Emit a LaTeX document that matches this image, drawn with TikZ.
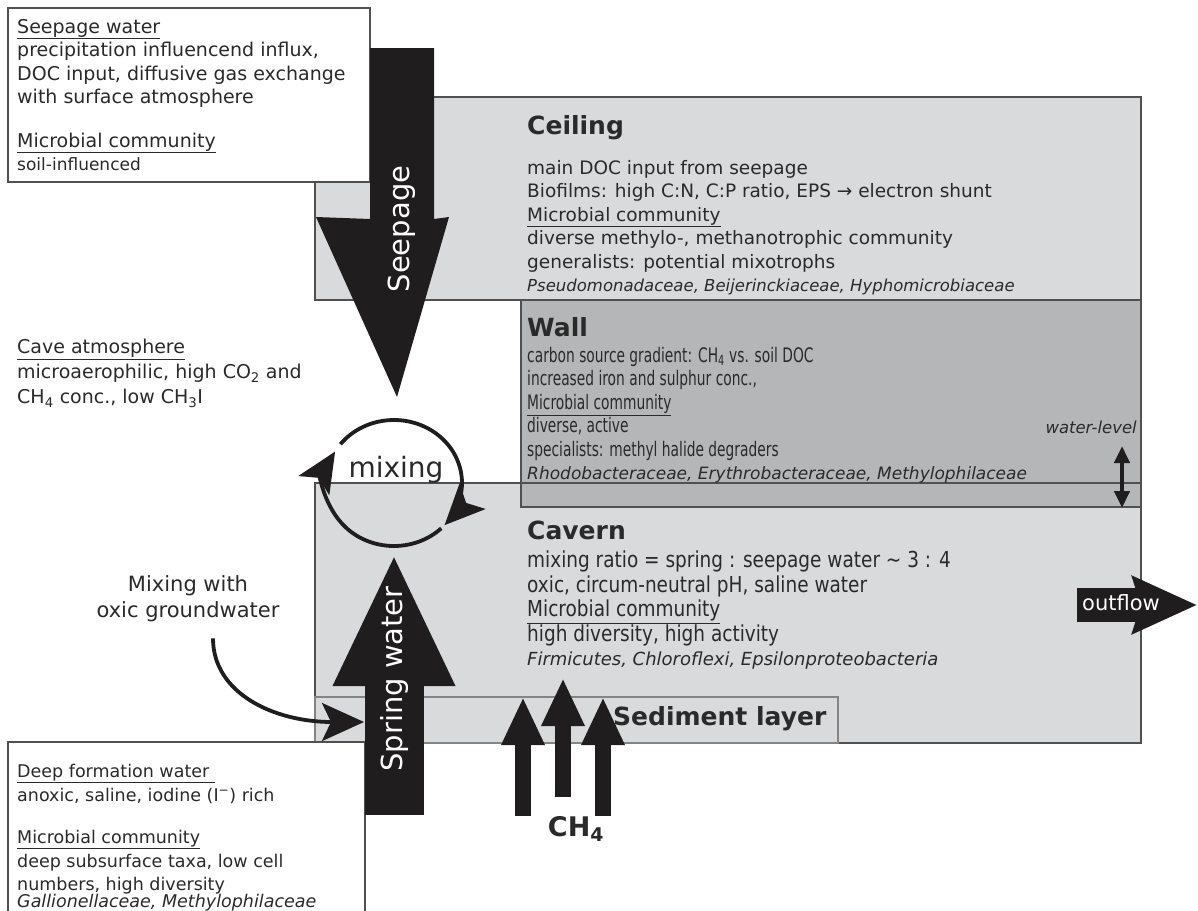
\documentclass[tikz,border=0pt]{standalone}
\usepackage{fontspec}
\setmainfont{DejaVu Sans}
\newfontfamily\wallfont{DejaVu Sans}[FakeStretch=0.69]
\newfontfamily\cavfont{DejaVu Sans}[FakeStretch=0.84]
\usetikzlibrary{positioning}
\usetikzlibrary{arrows.meta}

\definecolor{inkgray}{HTML}{2A2A2A}
\definecolor{edgegray}{HTML}{505050}
\definecolor{roomgray}{HTML}{D9DADC}
\definecolor{wallgray}{HTML}{B5B6B8}
\definecolor{flowblack}{HTML}{1F1D1E}

\newcommand{\infosize}{\fontsize{19}{23.5}\selectfont}
\newcommand{\zonesize}{\fontsize{18.5}{23.5}\selectfont}
\newcommand{\wallsize}{\fontsize{20}{23.5}\selectfont}
\newcommand{\cavsize}{\fontsize{22}{24.5}\selectfont}
\newcommand{\deepsize}{\fontsize{17.5}{23.5}\selectfont}
\newcommand{\titlesize}{\fontsize{25}{30}\selectfont}
\newcommand{\flowsize}{\fontsize{29}{34}\selectfont}

\begin{document}
\begin{tikzpicture}[x=1pt, y=-1pt,
    zonebox/.style={draw=edgegray, line width=1.3pt, fill=roomgray},
    wallbox/.style={zonebox, fill=wallgray},
    infobox/.style={draw=edgegray, line width=1.3pt, fill=white},
    textblock/.style={inner sep=0pt, anchor=north west, align=left, text=inkgray},
    zonetitle/.style={inner sep=0pt, anchor=west, text=inkgray, font=\titlesize\bfseries},
    flowlabel/.style={inner sep=0pt, text=white, font=\flowsize},
    bigflow/.style={draw=flowblack, line cap=butt},
    mixline/.style={draw=flowblack, line width=3.8pt},
  ]
  \useasboundingbox (0,0) rectangle (1198,910);
  \clip (0,0) rectangle (1198,910);

  % Zones
  \fill[roomgray] (315,483) rectangle (1141,743);
  \draw[zonebox] (315,97) rectangle (1141,300);
  \draw[wallbox] (521,300) rectangle (1141,507);
  \draw[draw=edgegray, line width=1.3pt] (315,483) rectangle (1141,743);
  \draw[zonebox, draw=edgegray!70] (315,697) rectangle (838,743);

  \draw[infobox] (8,8) rectangle (370,182);
  \draw[infobox] (8,742) rectangle (365,930);

  % Seepage and spring water
  \coordinate (seeptop) at (402,48);
  \coordinate (seeptip) at (397,397);
  \coordinate (springfoot) at (394,815);
  \coordinate (springtip) at (394,553);
  \fill[flowblack] (370,48) -- (434,48) -- (434,219) -- (449,217) -- (seeptip)
    -- (316,217) -- (370,219) -- cycle;
  \draw[bigflow, line width=59pt, -{Triangle[length=133pt,width=112pt]}] (springfoot) -- (springtip);
  \node[flowlabel, rotate=90] (seeplabel) at (402,229) {Seepage};
  \node[flowlabel, rotate=90] (springlabel) at (394,679) {Spring water};

  % Mixing loop
  \coordinate (mixc) at (394,483);
  \draw[mixline, -{Stealth[length=40pt,width=36pt,inset=9pt]}] (mixc) ++(46:68 and 63)
    arc[start angle=46, end angle=210, x radius=68, y radius=63];
  \draw[mixline, -{Stealth[length=40pt,width=36pt,inset=9pt]}] (mixc) ++(218:68 and 63)
    arc[start angle=218, end angle=402, x radius=68, y radius=63];
  \node[inner sep=0pt, text=inkgray, font=\fontsize{28}{32}\selectfont] (mixlabel) at (396,470) {mixing};

  % Groundwater inflow
  \node[textblock, anchor=center, align=center, font=\fontsize{21}{26}\selectfont] (oxicnote) at (188,599)
    {Mixing with\\oxic groundwater};
  \coordinate (springin) at (364,722);
  \draw[mixline, -{Stealth[length=42pt,width=38pt,inset=9pt]}] ([xshift=25pt, yshift=-16pt]oxicnote.south)
    .. controls +(0,55) and +(-90,0) .. (springin);

  % Outflow
  \coordinate (outbase) at (1077,605);
  \coordinate (outtip) at (1197,605);
  \draw[bigflow, line width=34pt, -{Stealth[length=64pt,width=56pt,inset=8pt]}] (outbase) -- (outtip);
  \node[flowlabel, font=\fontsize{21}{24}\selectfont] (outlabel) at (1121,603) {outflow};

  % Water level
  \coordinate (wltop) at (1122,446);
  \coordinate (wlbot) at (1122,508);
  \draw[draw=flowblack, line width=4.5pt, {Triangle[length=17pt,width=15pt]}-{Triangle[length=17pt,width=15pt]}] (wltop) -- (wlbot);
  \node[inner sep=0pt, anchor=east, text=inkgray, font=\fontsize{16.5}{20}\selectfont\itshape] (wllabel) at (1137,427) {water-level};

  % Methane
  \foreach \x/\tip/\foot [count=\i] in {523/697/816, 563/678/797, 603/697/816} {
    \coordinate (gasfoot\i) at (\x,\foot);
    \coordinate (gastip\i) at (\x,\tip);
    \draw[bigflow, line width=16pt, -{Triangle[length=48pt,width=40pt]}] (gasfoot\i) -- (gastip\i);
  }
  \node[inner sep=0pt, text=inkgray, font=\fontsize{27}{30}\selectfont\bfseries] (gaslabel) at (576,829) {CH\textsubscript{4}};

  % Zone texts
  \node[zonetitle] (ceiltitle) at (527,128) {Ceiling};
  \node[textblock, font=\zonesize] (ceilinfo) at (527,160) {main DOC input from seepage\\
    Biofilms: high C:N, C:P ratio, EPS → electron shunt\\
    \underline{Microbial community}\\
    diverse methylo-, methanotrophic community\\
    generalists: potential mixotrophs\\
    {\itshape\fontsize{16.5}{23}\selectfont Pseudomonadaceae, Beijerinckiaceae, Hyphomicrobiaceae}};

  \node[zonetitle] (walltitle) at (527,327) {Wall};
  \node[textblock, font=\wallfont\wallsize] (wallinfo) at (527,347) {carbon source gradient: CH\textsubscript{4} vs. soil DOC\\
    increased iron and sulphur conc.,\\
    \underline{Microbial community}\\
    diverse, active\\
    specialists: methyl halide degraders\\
    {\rmfamily\itshape\fontsize{17}{22.5}\selectfont Rhodobacteraceae, Erythrobacteraceae, Methylophilaceae}};

  \node[zonetitle] (cavtitle) at (527,530) {Cavern};
  \node[textblock, font=\cavfont\cavsize] (cavinfo) at (527,551) {mixing ratio = spring : seepage water \textasciitilde{} 3 : 4\\
    oxic, circum-neutral pH, saline water\\
    \underline{Microbial community}\\
    high diversity, high activity\\
    {\rmfamily\itshape\fontsize{18}{23}\selectfont Firmicutes, Chloroflexi, Epsilonproteobacteria}};

  \node[zonetitle] (sedtitle) at (613,719) {Sediment layer};

  % Side notes
  \node[textblock, font=\infosize] (seepinfo) at (17,19) {\underline{Seepage water}\\
    precipitation influencend influx,\\
    DOC input, diffusive gas exchange\\
    with surface atmosphere\\[20pt]
    \underline{Microbial community}\\
    {\fontsize{17}{23.5}\selectfont soil-influenced}};

  \node[textblock, font=\fontsize{19}{25}\selectfont] (caveinfo) at (17,339) {\underline{Cave atmosphere}\\
    microaerophilic, high CO\textsubscript{2} and\\
    CH\textsubscript{4} conc., low CH\textsubscript{3}I};

  \node[textblock, font=\deepsize] (deepinfo) at (17,764) {\underline{Deep formation water\ }\\
    anoxic, saline, iodine (I\textsuperscript{−}) rich\\[19pt]
    \underline{Microbial community}\\
    deep subsurface taxa, low cell\\
    numbers, high diversity\\[-7pt]
    {\itshape Gallionellaceae, Methylophilaceae}};
\end{tikzpicture}
\end{document}
